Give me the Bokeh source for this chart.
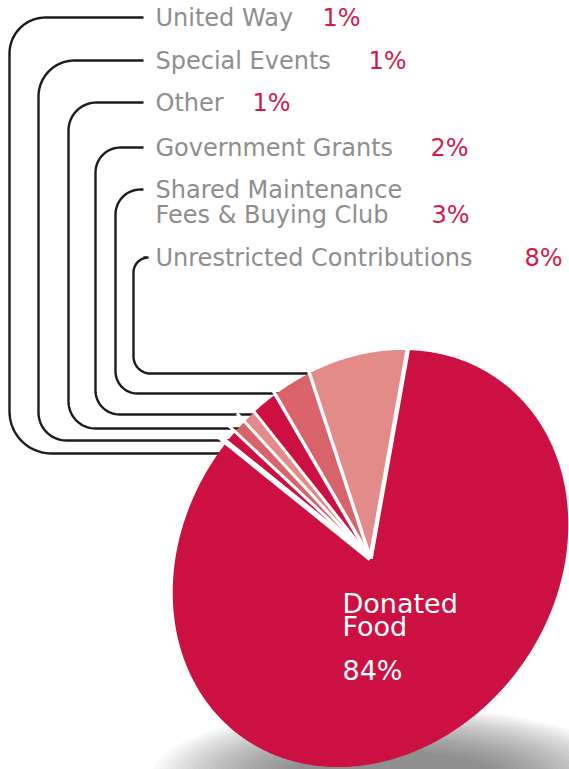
import numpy as np
from bokeh.plotting import figure
from bokeh.models import Range1d
from bokeh.core.properties import value
from bokeh.embed import file_html
from bokeh.resources import INLINE

# ---------------- data ----------------
categories = ["Unrestricted Contributions",
              "Shared Maintenance\nFees & Buying Club",
              "Government Grants",
              "Other",
              "Special Events",
              "United Way",
              "Donated Food"]
shares = [8, 3, 2, 1, 1, 1, 84]
pct_labels = [f"{s}%" for s in shares]

# ---------------- styles / layout ----------------
slice_colors = ["#e38b88", "#d9636a", "#cc1042", "#e38b88", "#d9636a", "#cc1042", "#cc1042"]
LABEL_GRAY = "#8e8e8e"
PCT_RED = "#d41a4b"
FONT = "DejaVu Sans"

# leader layout for the 6 small categories (same order as categories[:6])
lead_ytop = [257, 189, 147, 102, 60, 17]
lead_xv = [133, 115, 95, 68, 38, 9]
lead_ybot = [373, 393, 414, 428, 440, 453]
lead_rtop = [15, 25, 25, 28, 36, 36]
lead_rbot = [17, 22, 24, 27, 28, 42]
pct_x = [524, 431, 430, 252, 368, 322]
label_x = 155
line_start_x = 143
LINE_GAP = 25

# ellipse (tilted pie) geometry
CX, CY = 370.0, 558.0
A, B = 220.0, 185.0
PHI = np.deg2rad(54.0)
T0 = np.deg2rad(30.0)


def ell(t, scale=1.0):
    u = A * np.cos(t) * scale
    v = B * np.sin(t) * scale
    xm = u * np.cos(PHI) - v * np.sin(PHI)
    ym = u * np.sin(PHI) + v * np.cos(PHI)
    return CX + xm, CY - ym


W, H = 569, 769
p = figure(width=W, height=H, output_backend="svg", toolbar_location=None,
           x_range=Range1d(0, W), y_range=Range1d(H, 0),
           min_border=0, outline_line_color=None, background_fill_color="white",
           border_fill_color="white")
p.axis.visible = False
p.grid.visible = False

# ---- soft shadow under the pie ----
for k in range(26):
    p.ellipse(x=392, y=776, width=480 - 11 * k, height=140 - 3.6 * k,
              fill_color="#4a4a54", fill_alpha=0.035, line_color=None)

# ---- leader lines ----
bt = np.linspace(0, 2 * np.pi, 2000)
bx, by = ell(bt)
left = bx < CX
xs_all, ys_all = [], []
for i in range(6):
    yt, xv, yb, rt, rb = lead_ytop[i], lead_xv[i], lead_ybot[i], lead_rtop[i], lead_rbot[i]
    idx = np.argmin(np.abs(by[left] - yb))
    x_end = bx[left][idx] + 14
    a = np.linspace(0, np.pi / 2, 20)
    xs = [line_start_x, xv + rt] + list(xv + rt - rt * np.sin(a)) + [xv, xv] \
        + list(xv + rb - rb * np.cos(a)) + [x_end]
    ys = [yt, yt] + list(yt + rt - rt * np.cos(a)) + [yt + rt, yb - rb] \
        + list(yb - rb + rb * np.sin(a)) + [yb]
    xs_all.append(xs)
    ys_all.append(ys)
p.multi_line(xs_all, ys_all, line_color="#1c1c1c", line_width=2.4)

# ---- pie slices ----
xs_s, ys_s = [], []
bounds = []
cum = 0.0
for s in shares:
    t1 = T0 + np.deg2rad(cum * 3.6)
    t2 = T0 + np.deg2rad((cum + s) * 3.6)
    ts = np.linspace(t1, t2, max(8, int(s * 6)))
    ex, ey = ell(ts)
    xs_s.append([CX] + list(ex))
    ys_s.append([CY] + list(ey))
    bounds.append(t1)
    cum += s
p.patches(xs_s, ys_s, fill_color=slice_colors, line_color=None)

# small dark edge visible in the gap behind the largest pale slice
ex0, ey0 = ell(np.array([bounds[0]]), scale=0.83)
ex1, ey1 = ell(np.array([bounds[0]]), scale=0.97)
p.line([ex0[0] + 1.5, ex1[0] + 0.5], [ey0[0], ey1[0]], line_color="#222222", line_width=2.2)

# white gaps between slices (radial separators)
rx0, ry0 = [], []
for t in bounds:
    ex, ey = ell(np.array([t]), scale=1.06)
    rx0.append([CX, ex[0]])
    ry0.append([CY, ey[0]])
p.multi_line(rx0, ry0, line_color="white", line_width=[4.5, 3.5, 3.5, 3.0, 3.0, 3.0, 5.5])

# ---- labels ----
tx, ty, tt_ = [], [], []
for i in range(6):
    lines = categories[i].split("\n")
    for j, ln in enumerate(lines):
        tx.append(label_x)
        ty.append(lead_ytop[i] + LINE_GAP * j)
        tt_.append(ln)
p.text(tx, ty, text=tt_, text_font=value(FONT), text_font_size="24px",
       text_color=LABEL_GRAY, text_baseline="middle", text_align="left")

px, py, pt = [], [], []
for i in range(6):
    nlines = len(categories[i].split("\n"))
    px.append(pct_x[i])
    py.append(lead_ytop[i] + LINE_GAP * (nlines - 1))
    pt.append(pct_labels[i])
p.text(px, py, text=pt, text_font=value(FONT), text_font_size="24px",
       text_color=PCT_RED, text_baseline="middle", text_align="left")

# big slice label
big_lines = categories[6].split(" ")
p.text([342] * len(big_lines), [603, 626], text=big_lines, text_font=value(FONT),
       text_font_size="27px", text_color="white", text_baseline="middle")
p.text([342], [670], text=[pct_labels[6]], text_font=value(FONT),
       text_font_size="27px", text_color="white", text_baseline="middle")

open("out.html", "w").write(file_html(p, INLINE))
